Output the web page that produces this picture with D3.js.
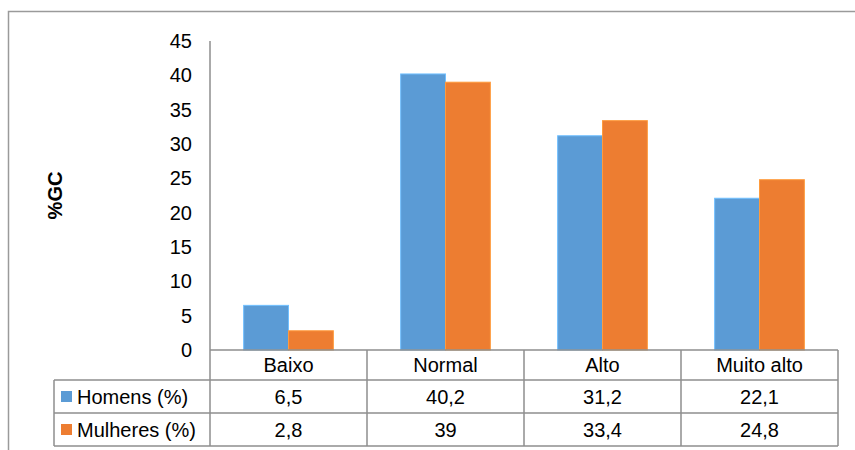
<!DOCTYPE html>
<html>
<head>
<meta charset="utf-8">
<script src="https://cdn.jsdelivr.net/npm/d3@7"></script>
<style>
  body { margin: 0; background: #fff; }
  text { font-family: "Liberation Sans", Arial, sans-serif; fill: #000; }
</style>
</head>
<body>
<div id="chart"></div>
<script>
// data
const categories = ["Baixo", "Normal", "Alto", "Muito alto"];
const seriesNames = ["Homens (%)", "Mulheres (%)"];
const homens = [6.5, 40.2, 31.2, 22.1];
const mulheres = [2.8, 39, 33.4, 24.8];
const yTicks = [0, 5, 10, 15, 20, 25, 30, 35, 40, 45];
const colors = ["#5b9bd5", "#ed7d31"];

const seriesValues = [homens, mulheres];

//set up the dimensions
const W = 855, H = 450;
const plot = { left: 210, right: 838, top: 41, bottom: 350 };
const legendLeft = 54;
const rowH = [30, 33, 33]; // category row, Homens row, Mulheres row
const lineColor = "#8e8e8e";

// portuguese number format (comma as decimal)
const pt = d3.formatLocale({ decimal: ",", thousands: ".", grouping: [3], currency: ["", ""] });
const fmt = pt.format("~g");

const svg = d3.select("#chart")
  .append("svg")
  .attr("width", W)
  .attr("height", H);

// chart outer border
svg.append("path")
  .attr("d", "M8.5," + H + "V11.5H" + W)
  .attr("fill", "none")
  .attr("stroke", "#9a9a9a")
  .attr("stroke-width", 1.5);

//scales
const x = d3.scaleBand()
  .domain(categories)
  .range([plot.left, plot.right]);

const x1 = d3.scaleBand()
  .domain(seriesNames)
  .range([0, x.bandwidth()])
  .paddingInner(0)
  .paddingOuter(0.75);

const y = d3.scaleLinear()
  .domain([0, 45])
  .range([plot.bottom, plot.top]);

// y axis labels (no tick marks, no domain line)
const yAxis = d3.axisLeft(y)
  .tickValues(yTicks)
  .tickSize(0)
  .tickPadding(18)
  .tickFormat(d3.format("d"));

const gy = svg.append("g")
  .attr("transform", "translate(" + plot.left + ",0)")
  .call(yAxis);
gy.select(".domain").remove();
gy.selectAll("text")
  .style("font-size", "20px")
  .style("font-family", "'Liberation Sans', Arial, sans-serif");

// y axis title
svg.append("text")
  .attr("transform", "translate(62," + (plot.top + plot.bottom) / 2 + ") rotate(-90)")
  .attr("text-anchor", "middle")
  .style("font-size", "20px")
  .style("font-weight", "bold")
  .text("%GC");

// bars
const groups = svg.selectAll(".cat")
  .data(categories)
  .enter()
  .append("g")
  .attr("class", "cat")
  .attr("transform", d => "translate(" + x(d) + ",0)");

groups.selectAll("rect")
  .data((d, i) => seriesNames.map((s, j) => ({ s: s, v: seriesValues[j][i], j: j })))
  .enter()
  .append("rect")
  .attr("x", d => x1(d.s))
  .attr("width", x1.bandwidth())
  .attr("y", d => y(d.v))
  .attr("height", d => y(0) - y(d.v))
  .style("fill", d => colors[d.j])
  .style("stroke", d => d3.color(colors[d.j]).brighter(0.6))
  .style("stroke-width", 1);

// data table
const rowY = [plot.bottom, plot.bottom + rowH[0], plot.bottom + rowH[0] + rowH[1], plot.bottom + rowH[0] + rowH[1] + rowH[2]];
const table = svg.append("g")
  .attr("fill", "none")
  .attr("stroke", lineColor)
  .attr("stroke-width", 1.5);

// horizontal lines
table.append("line").attr("x1", plot.left).attr("x2", plot.right).attr("y1", rowY[0]).attr("y2", rowY[0]);
[1, 2, 3].forEach(k => {
  table.append("line")
    .attr("x1", legendLeft).attr("x2", plot.right)
    .attr("y1", rowY[k]).attr("y2", rowY[k]);
});

// vertical lines
table.append("line").attr("x1", plot.left).attr("x2", plot.left).attr("y1", plot.top).attr("y2", rowY[3]);
table.append("line").attr("x1", legendLeft).attr("x2", legendLeft).attr("y1", rowY[1]).attr("y2", rowY[3]);
categories.forEach((c, i) => {
  const xx = x(c) + x.bandwidth();
  table.append("line").attr("x1", xx).attr("x2", xx).attr("y1", rowY[0]).attr("y2", rowY[3]);
});

// category labels
svg.selectAll(".catlabel")
  .data(categories)
  .enter()
  .append("text")
  .attr("class", "catlabel")
  .attr("x", d => x(d) + x.bandwidth() / 2)
  .attr("y", (rowY[0] + rowY[1]) / 2)
  .attr("dy", "0.35em")
  .attr("text-anchor", "middle")
  .style("font-size", "20px")
  .text(d => d);

// value rows
seriesNames.forEach((s, j) => {
  const cy = (rowY[j + 1] + rowY[j + 2]) / 2;

  svg.append("rect")
    .attr("x", 61)
    .attr("y", cy - 5.5)
    .attr("width", 11)
    .attr("height", 11)
    .style("fill", colors[j]);

  svg.append("text")
    .attr("x", 77)
    .attr("y", cy)
    .attr("dy", "0.35em")
    .style("font-size", "20px")
    .text(s);

  svg.selectAll(".val" + j)
    .data(categories)
    .enter()
    .append("text")
    .attr("class", "val" + j)
    .attr("x", d => x(d) + x.bandwidth() / 2)
    .attr("y", cy)
    .attr("dy", "0.35em")
    .attr("text-anchor", "middle")
    .style("font-size", "20px")
    .text((d, i) => fmt(seriesValues[j][i]));
});
</script>
</body>
</html>
